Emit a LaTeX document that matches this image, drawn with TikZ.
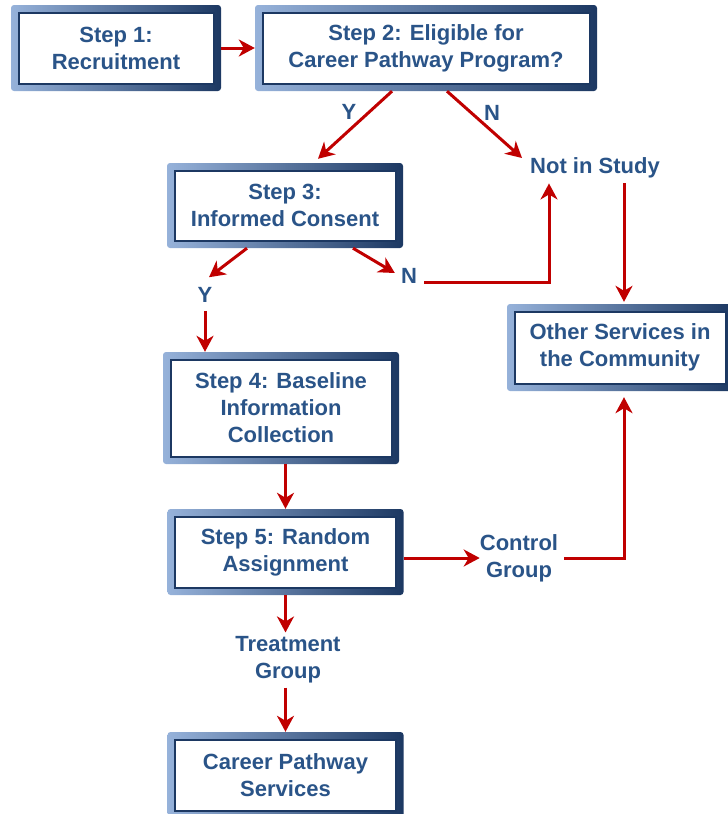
\documentclass[tikz,border=0pt]{standalone}
\usepackage{fontspec}
\setmainfont{Liberation Sans}
\usetikzlibrary{arrows.meta,calc}
\definecolor{txt}{RGB}{42,84,136}
\definecolor{gl}{RGB}{150,178,218}
\definecolor{gd}{RGB}{28,56,98}
\definecolor{arr}{RGB}{192,0,0}
\tikzset{
  stepbox/.style={rectangle, rounded corners=3pt, left color=gl, right color=gd,
    text=txt, font=\fontsize{22}{27}\selectfont\bfseries, align=center, inner sep=0pt,
    path picture={\fill[white, draw=gd, line width=2pt, sharp corners]
      ([shift={(7.5pt,-7.5pt)}]path picture bounding box.north west) rectangle
      ([shift={(-7.5pt,7.5pt)}]path picture bounding box.south east);}},
  lbl/.style={text=txt, font=\fontsize{22}{27}\selectfont\bfseries, align=center, inner sep=0pt},
  arrowst/.style={draw=arr, line width=3pt, -{Stealth[length=16pt,width=17pt,inset=5pt]}},
  linest/.style={draw=arr, line width=3pt}
}
\begin{document}
\begin{tikzpicture}[x=1pt,y=-1pt]
\useasboundingbox (0,0) rectangle (728,814);
\clip (0,0) rectangle (728,814);
% boxes
\node[stepbox, minimum width=210pt, minimum height=86pt] (s1) at (116,48) {Step 1:\\Recruitment};
\node[stepbox, minimum width=342pt, minimum height=86pt] (s2) at (426,48) {Step 2: Eligible for\\Career Pathway Program?};
\node[stepbox, minimum width=236pt, minimum height=85pt] (s3) at (285,205.5) {Step 3:\\Informed Consent};
\node[stepbox, minimum width=236pt, minimum height=112pt] (s4) at (281,408) {Step 4: Baseline\\Information\\Collection};
\node[stepbox, minimum width=236pt, minimum height=86pt] (s5) at (285.5,552) {Step 5: Random\\Assignment};
\node[stepbox, minimum width=236pt, minimum height=86pt] (s6) at (285.5,775) {Career Pathway\\Services};
\node[stepbox, minimum width=226pt, minimum height=87pt] (oth) at (620,347.5) {Other Services in\\the Community};
% labels
\node[lbl] (y1) at (349,112) {Y};
\node[lbl] (n1) at (492,113) {N};
\node[lbl] (nis) at (595,168) {Not in Study};
\node[lbl] (y2) at (205,295) {Y};
\node[lbl] (n2) at (409,276) {N};
\node[lbl] (cg) at (519,558) {Control\\Group};
\node[lbl] (tg) at (288,660) {Treatment\\Group};
% connectors
\draw[arrowst] (s1.east) -- (s2.west);
\draw[arrowst] ([xshift=-34pt]s2.south) -- ([xshift=33pt,yshift=4pt]s3.north);
\draw[arrowst] ([xshift=21pt]s2.south) -- ([xshift=-8pt,yshift=10pt]nis.west);
\draw[arrowst] ([xshift=-38pt]s3.south) -- ([xshift=4pt,yshift=10pt]y2.north);
\draw[arrowst] ([xshift=68pt]s3.south) -- ([xshift=-6pt,yshift=3pt]n2.west);
\draw[arrowst] ([xshift=7pt,yshift=-6pt]n2.east) -| ([xshift=-46pt,yshift=-5pt]nis.south);
\draw[arrowst] ([xshift=29pt,yshift=-5pt]nis.south) -- ([xshift=4pt,yshift=2pt]oth.north);
\draw[arrowst] ([yshift=-8pt]y2.south) -- (y2.south |- s4.north);
\draw[arrowst] (s5.north |- s4.south) -- (s5.north);
\draw[arrowst] (s5.east |- cg.west) -- (cg.west);
\draw[arrowst] ([xshift=6pt]cg.east) -| ([xshift=4pt,yshift=-6pt]oth.south);
\draw[arrowst] (s5.south) -- ([yshift=4pt]s5.south |- tg.north);
\draw[arrowst] ([yshift=-4pt]s6.north |- tg.south) -- (s6.north);
\end{tikzpicture}
\end{document}
